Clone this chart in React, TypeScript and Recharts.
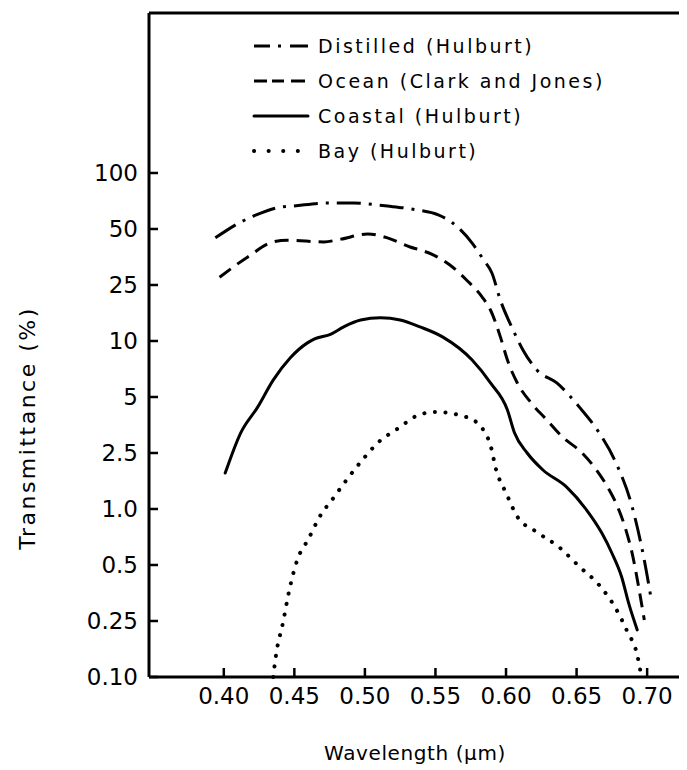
import React from "react"
import { LineChart, Line, XAxis, YAxis, ReferenceLine } from "recharts"

// y axis ticks are evenly spaced in the original, not on a true log scale
const yTickValues = [0.1, 0.25, 0.5, 1, 2.5, 5, 10, 25, 50, 100]
const yTickLabels = ["0.10", "0.25", "0.5", "1.0", "2.5", "5", "10", "25", "50", "100"]
const xTicks = [0.4, 0.45, 0.5, 0.55, 0.6, 0.65, 0.7]

// wavelength (µm) / transmittance (%)
const distilledWl = [0.394, 0.412, 0.423, 0.44, 0.449, 0.473, 0.492, 0.516, 0.537, 0.552, 0.562, 0.576, 0.584, 0.59, 0.596, 0.605, 0.612, 0.622, 0.636, 0.652, 0.666, 0.678, 0.689, 0.698, 0.703]
const distilledT = [44.8, 54.5, 59.5, 65.5, 66.4, 68.9, 68.9, 66.4, 63.3, 59.5, 54, 42, 34.2, 29, 19.5, 12, 8.95, 6.97, 5.95, 4.41, 3.21, 2.12, 1.07, 0.53, 0.324]

const oceanWl = [0.397, 0.417, 0.435, 0.445, 0.471, 0.483, 0.502, 0.516, 0.532, 0.539, 0.548, 0.56, 0.572, 0.583, 0.589, 0.596, 0.601, 0.608, 0.618, 0.629, 0.64, 0.654, 0.664, 0.672, 0.679, 0.685, 0.69, 0.694, 0.698]
const oceanT = [27.5, 35.4, 42.6, 43.5, 42.6, 44.1, 47, 44.8, 40, 38.6, 36.4, 32.1, 26.6, 20.6, 16.6, 10.7, 7.9, 5.95, 4.63, 3.76, 3.05, 2.5, 1.9, 1.43, 1.04, 0.77, 0.55, 0.38, 0.253]

const coastalWl = [0.401, 0.412, 0.424, 0.435, 0.447, 0.459, 0.464, 0.476, 0.485, 0.497, 0.511, 0.525, 0.539, 0.555, 0.576, 0.589, 0.601, 0.606, 0.615, 0.626, 0.643, 0.657, 0.668, 0.675, 0.682, 0.687, 0.693]
const coastalT = [1.8, 3.21, 4.41, 6.16, 8.1, 9.74, 10.3, 11.2, 12.6, 14.1, 14.6, 14.1, 12.6, 10.7, 7.9, 5.95, 4.26, 3.21, 2.5, 1.9, 1.43, 0.99, 0.74, 0.58, 0.43, 0.31, 0.216]

const bayWl = [0.435, 0.437, 0.442, 0.446, 0.452, 0.46, 0.468, 0.478, 0.488, 0.499, 0.509, 0.524, 0.538, 0.55, 0.56, 0.569, 0.577, 0.584, 0.589, 0.593, 0.6, 0.608, 0.622, 0.638, 0.652, 0.666, 0.678, 0.686, 0.693, 0.696]
const bayT = [0.1, 0.143, 0.245, 0.354, 0.53, 0.69, 0.91, 1.21, 1.66, 2.28, 2.83, 3.41, 4, 4.15, 4.1, 3.95, 3.76, 3.32, 2.75, 1.9, 1.3, 0.91, 0.75, 0.62, 0.49, 0.39, 0.29, 0.21, 0.143, 0.1]

const FONT = "'DejaVu Sans', sans-serif"

// piecewise log position between the evenly spaced tick values
function toPos(v: number) {
  for (let i = 0; i < yTickValues.length - 1; i++) {
    const a = yTickValues[i]
    const b = yTickValues[i + 1]
    if (v <= b) return i + Math.log(v / a) / Math.log(b / a)
  }
  return yTickValues.length - 1 + Math.log(v / 100) / Math.log(2)
}

const build = (wl: number[], t: number[]) => wl.map((w, i) => ({ w, pos: toPos(t[i]) }))

const series = [
  { name: "Distilled (Hulburt)", data: build(distilledWl, distilledT), dash: "24 8 3 8", width: 3, cap: "butt", icon: "16 8 3 9 19" },
  { name: "Ocean (Clark and Jones)", data: build(oceanWl, oceanT), dash: "14 8", width: 3, cap: "butt", icon: "13 5 12 7 14" },
  { name: "Coastal (Hulburt)", data: build(coastalWl, coastalT), dash: undefined, width: 3, cap: "round", icon: undefined },
  { name: "Bay (Hulburt)", data: build(bayWl, bayT), dash: "0.1 10.5", width: 4, cap: "round", icon: "0.1 14.5" },
]

const X_MIN = 0.347
const X_MAX = 0.724
const Y_TOP = 11.857
const frameLine = { stroke: "#000", strokeWidth: 3 }
const tickMark = { stroke: "#000", strokeWidth: 2.5 }
const tickText = { fontSize: 23, fill: "#000", fontFamily: FONT }

function KeyBox() {
  return (
    <div
      style={{
        position: "absolute",
        top: 20,
        left: 244,
        fontFamily: FONT,
        fontSize: 19,
        letterSpacing: 2.5,
        color: "#000",
        pointerEvents: "none",
      }}
    >
      {series.map((s) => (
        <div key={s.name} style={{ display: "flex", alignItems: "center", height: 35 }}>
          <svg width={58} height={10} style={{ marginRight: 8 }}>
            <line
              x1={2}
              y1={5}
              x2={56}
              y2={5}
              stroke="#000"
              strokeWidth={s.width}
              strokeDasharray={s.icon}
              strokeLinecap={s.cap as any}
            />
          </svg>
          <span>{s.name}</span>
        </div>
      ))}
    </div>
  )
}

export default function App() {
  return (
    <div style={{ position: "relative", width: 679, height: 762 }}>
      <LineChart width={679} height={762} margin={{ top: 5, right: 6, bottom: 0, left: 0 }}>
        <XAxis
          type="number"
          dataKey="w"
          domain={[X_MIN, X_MAX]}
          ticks={xTicks}
          tickFormatter={(v: number) => v.toFixed(2)}
          axisLine={frameLine}
          tickLine={tickMark}
          tickSize={-9}
          tickMargin={20}
          height={93}
          tick={tickText}
        />
        <YAxis
          type="number"
          domain={[0, Y_TOP]}
          ticks={yTickValues.map((_, i) => i)}
          tickFormatter={(v: number) => yTickLabels[v] ?? ""}
          axisLine={frameLine}
          tickLine={tickMark}
          tickSize={-9}
          tickMargin={20}
          width={141}
          tick={tickText}
        />
        <ReferenceLine y={Y_TOP} stroke="#000" strokeWidth={3} ifOverflow="visible" />
        <ReferenceLine x={X_MAX} stroke="#000" strokeWidth={3} ifOverflow="visible" />
        {series.map((s) => (
          <Line
            key={s.name}
            name={s.name}
            data={s.data}
            dataKey="pos"
            type="monotone"
            stroke="#000"
            strokeWidth={s.width}
            strokeDasharray={s.dash}
            strokeLinecap={s.cap as any}
            dot={false}
            activeDot={false}
            isAnimationActive={false}
          />
        ))}
      </LineChart>
      <KeyBox />
      <div
        style={{
          position: "absolute",
          left: 19,
          top: 420,
          transform: "translate(-50%, -50%) rotate(-90deg)",
          whiteSpace: "nowrap",
          fontFamily: FONT,
          fontSize: 22,
          letterSpacing: 2.5,
          color: "#000",
        }}
      >
        Transmittance (%)
      </div>
      <div
        style={{
          position: "absolute",
          left: 407,
          top: 745,
          transform: "translate(-50%, -50%)",
          whiteSpace: "nowrap",
          fontFamily: FONT,
          fontSize: 20,
          letterSpacing: 0.6,
          color: "#000",
        }}
      >
        Wavelength (μm)
      </div>
    </div>
  )
}
